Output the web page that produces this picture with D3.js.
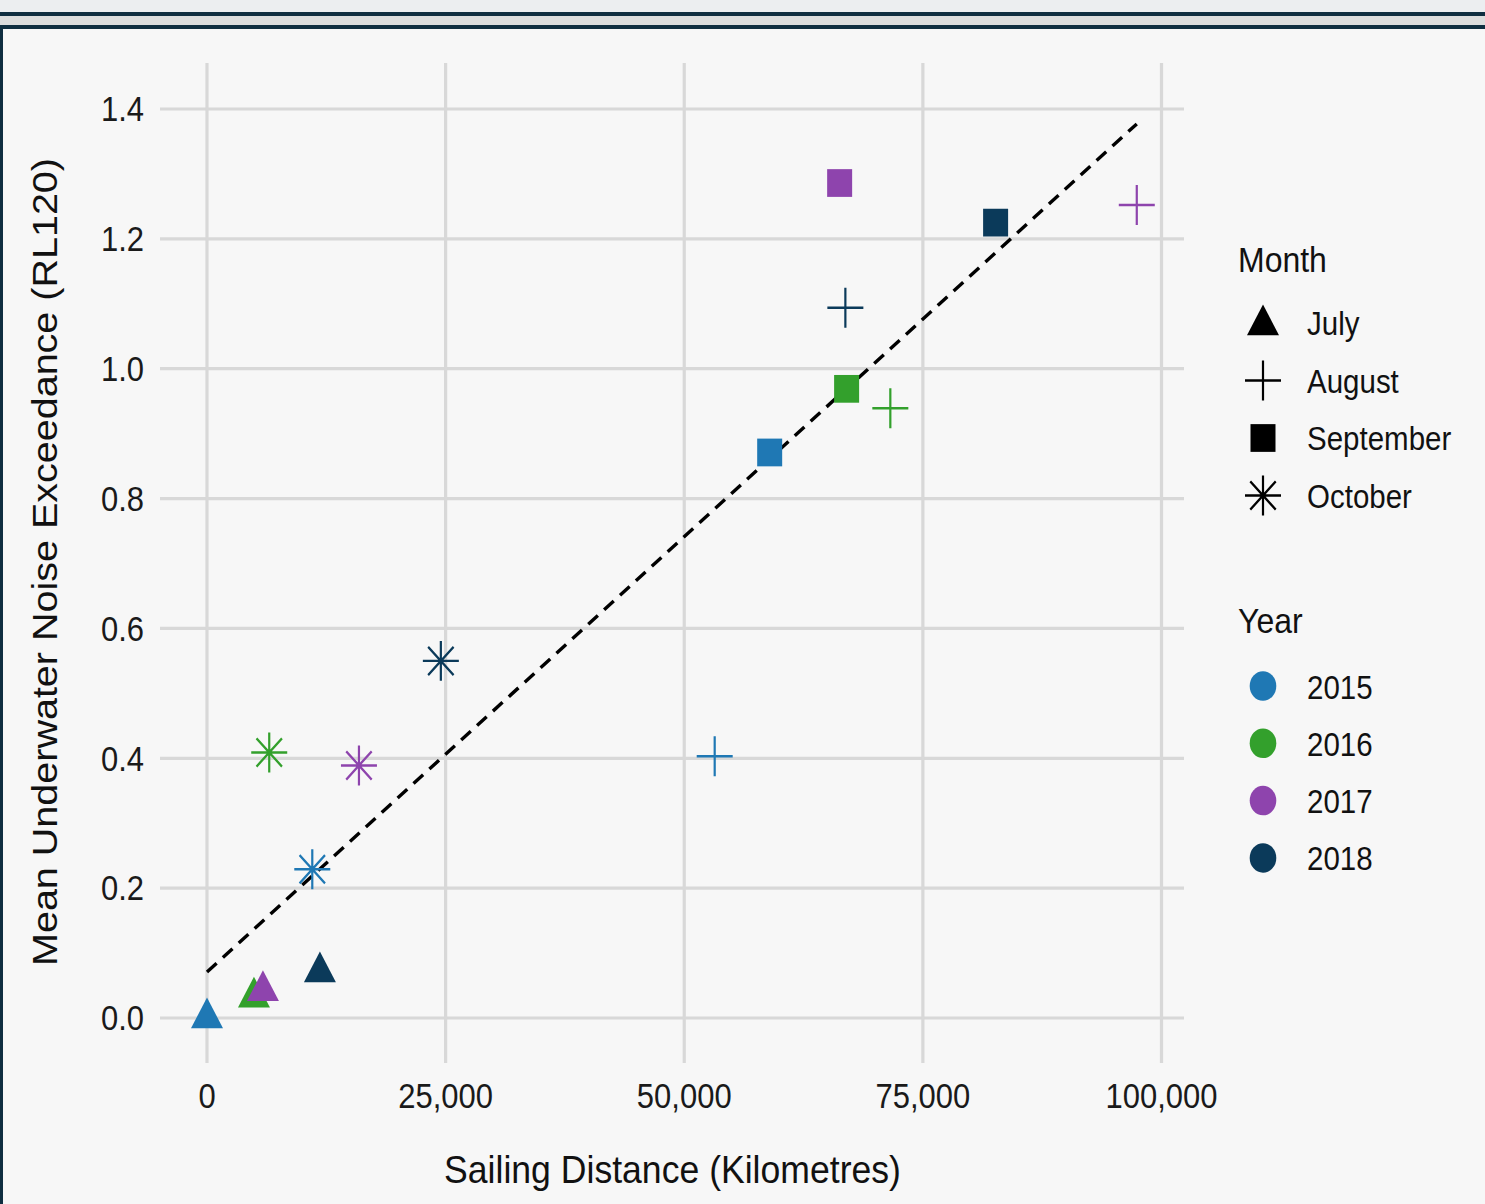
<!DOCTYPE html>
<html>
<head>
<meta charset="utf-8">
<script src="https://cdn.jsdelivr.net/npm/d3@7"></script>
<style>
  html, body { margin: 0; padding: 0; background: #f7f7f7; }
  svg { display: block; }
  text { font-family: "Liberation Sans", Arial, Helvetica, sans-serif; }
</style>
</head>
<body>
<svg id="chart" width="1485" height="1204"></svg>
<script>
// ---------------- data ----------------
const months   = ["July","July","July","July",
                  "August","August","August","August",
                  "September","September","September","September",
                  "October","October","October","October"];
const years    = ["2015","2016","2017","2018",
                  "2015","2016","2017","2018",
                  "2015","2016","2017","2018",
                  "2015","2016","2017","2018"];
const distance = [0, 4920, 5860, 11830,
                  53190, 71590, 97410, 66880,
                  58950, 67010, 66280, 82620,
                  11030, 6520, 15920, 24500];
const exceedance = [0.0, 0.032, 0.042, 0.071,
                    0.403, 0.939, 1.252, 1.094,
                    0.871, 0.969, 1.286, 1.225,
                    0.229, 0.409, 0.389, 0.550];
const fitDistance   = [0, 97410];
const fitExceedance = [0.071, 1.377];

const xTicks = [0, 25000, 50000, 75000, 100000];
const yTicks = [0.0, 0.2, 0.4, 0.6, 0.8, 1.0, 1.2, 1.4];
const monthLevels = ["July","August","September","October"];
const yearLevels  = ["2015","2016","2017","2018"];
const yearColors  = ["#1f78b4","#33a02c","#8e44ad","#0b3a5a"];

// ---------------- setup ----------------
const svg = d3.select("#chart");
const SY = 1.11; // vertical stretch of the reference

// frame / header
svg.append("rect").attr("x",0).attr("y",0).attr("width",1485).attr("height",12).attr("fill","#eceef0");
svg.append("rect").attr("x",0).attr("y",12).attr("width",1485).attr("height",4).attr("fill","#0f2e40");
svg.append("rect").attr("x",0).attr("y",16).attr("width",1485).attr("height",9).attr("fill","#dcdddd");
svg.append("rect").attr("x",0).attr("y",25).attr("width",1485).attr("height",4).attr("fill","#0f2e40");
svg.append("rect").attr("x",0).attr("y",25).attr("width",3).attr("height",1179).attr("fill","#0f2e40");

const x = d3.scaleLinear().domain([0, 100000]).range([207, 1161.5]);
const y = d3.scaleLinear().domain([0, 1.4]).range([1018, 109]);
const color = d3.scaleOrdinal().domain(yearLevels).range(yearColors);

const panel = {left: 160, right: 1184, top: 63, bottom: 1063};

// gridlines
const grid = svg.append("g").attr("stroke","#d8d8d8").attr("stroke-width",3.2);
grid.selectAll("line.h").data(yTicks).join("line")
  .attr("x1", panel.left).attr("x2", panel.right)
  .attr("y1", d => y(d)).attr("y2", d => y(d));
grid.selectAll("line.v").data(xTicks).join("line")
  .attr("y1", panel.top).attr("y2", panel.bottom)
  .attr("x1", d => x(d)).attr("x2", d => x(d));

// tick labels
const fmt = d3.format(",");
svg.append("g").selectAll("text").data(xTicks).join("text")
  .attr("transform", d => `translate(${x(d)},1108) scale(1,${SY})`)
  .attr("text-anchor","middle").attr("font-size",31).attr("fill","#1a1a1a")
  .text(d => fmt(d));
svg.append("g").selectAll("text").data(yTicks).join("text")
  .attr("transform", d => `translate(144,${y(d) + 12.3}) scale(1,${SY})`)
  .attr("text-anchor","end").attr("font-size",31).attr("fill","#1a1a1a")
  .text(d => d.toFixed(1));

// axis titles
svg.append("text")
  .attr("transform", `translate(672.5,1183) scale(1,${SY})`)
  .attr("text-anchor","middle").attr("font-size",35.6).attr("fill","#111")
  .text("Sailing Distance (Kilometres)");
svg.append("text")
  .attr("transform", `translate(57,562) scale(1,${SY}) rotate(-90)`)
  .attr("text-anchor","middle").attr("font-size",35.6).attr("fill","#111")
  .text("Mean Underwater Noise Exceedance (RL120)");

// regression line
svg.append("path")
  .datum(d3.zip(fitDistance, fitExceedance))
  .attr("d", d3.line().x(d => x(d[0])).y(d => y(d[1])))
  .attr("fill","none").attr("stroke","#000").attr("stroke-width",3.4)
  .attr("stroke-dasharray","13,8.5");

// symbols
const R = 18;
const symPlus = { draw(ctx) { ctx.moveTo(-R,0); ctx.lineTo(R,0); ctx.moveTo(0,-R); ctx.lineTo(0,R); } };
const symAst = { draw(ctx) {
  const a = R * Math.SQRT1_2;
  ctx.moveTo(-R,0); ctx.lineTo(R,0); ctx.moveTo(0,-R); ctx.lineTo(0,R);
  ctx.moveTo(-a,-a); ctx.lineTo(a,a); ctx.moveTo(-a,a); ctx.lineTo(a,-a);
} };
const shapeInfo = {
  "July":      {type: d3.symbolTriangle, size: 443, filled: true},
  "August":    {type: symPlus, size: 1, filled: false},
  "September": {type: d3.symbolSquare, size: 625, filled: true},
  "October":   {type: symAst, size: 1, filled: false}
};
function drawSym(sel, month, col) {
  const s = shapeInfo[month];
  sel.attr("d", d3.symbol().type(s.type).size(s.size)())
    .attr("fill", s.filled ? col : "none")
    .attr("stroke", s.filled ? "none" : col)
    .attr("stroke-width", s.filled ? 0 : 2.2);
}

const points = d3.range(distance.length).map(i => ({
  month: months[i], year: years[i], dx: distance[i], ey: exceedance[i]
}));
const order = ["July","September","August","October"];
points.sort((a,b) => order.indexOf(a.month) - order.indexOf(b.month));

svg.append("g").selectAll("path").data(points).join("path")
  .attr("transform", d => `translate(${x(d.dx)},${y(d.ey)}) scale(1,${SY})`)
  .each(function(d) { drawSym(d3.select(this), d.month, color(d.year)); });

// legend: Month
const lg = svg.append("g");
lg.append("text").attr("transform", `translate(1238,272) scale(1,${SY})`)
  .attr("font-size",32).attr("fill","#111").text("Month");
const mRow = d => 323 + monthLevels.indexOf(d) * 57.5;
lg.selectAll("path.m").data(monthLevels).join("path")
  .attr("transform", d => `translate(1263,${mRow(d) + (d==="July" ? 2 : 0)}) scale(1,${SY})`)
  .each(function(d) { drawSym(d3.select(this), d, "#000"); });
lg.selectAll("text.m").data(monthLevels).join("text")
  .attr("transform", d => `translate(1307,${mRow(d) + 12}) scale(1,${SY})`)
  .attr("font-size",29.5).attr("fill","#111").text(d => d);

// legend: Year
lg.append("text").attr("transform", `translate(1238,633) scale(1,${SY})`)
  .attr("font-size",32).attr("fill","#111").text("Year");
const yRow = d => 686 + yearLevels.indexOf(d) * 57.3;
lg.selectAll("ellipse").data(yearLevels).join("ellipse")
  .attr("cx",1263).attr("cy", d => yRow(d)).attr("rx",13.3).attr("ry",13.3*SY)
  .attr("fill", d => color(d));
lg.selectAll("text.y").data(yearLevels).join("text")
  .attr("transform", d => `translate(1307,${yRow(d) + 12.5}) scale(1,${SY})`)
  .attr("font-size",29.5).attr("fill","#111").text(d => d);
</script>
</body>
</html>
